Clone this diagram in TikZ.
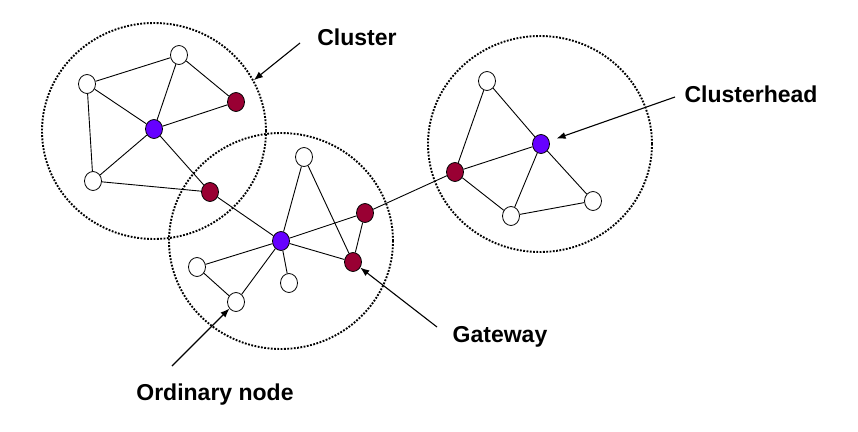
\documentclass[tikz,border=0pt]{standalone}
\usepackage{fontspec}
\setmainfont{Liberation Sans}
\usetikzlibrary{arrows.meta,shapes.geometric}
\definecolor{headblue}{RGB}{102,0,255}
\definecolor{gatered}{RGB}{153,0,51}

\begin{document}
\begin{tikzpicture}[x=1pt,y=-1pt,
    sensor/.style={ellipse,draw,line width=0.8pt,minimum width=17pt,minimum height=19pt,inner sep=0pt},
    plain/.style={sensor,fill=white},
    head/.style={sensor,fill=headblue},
    gate/.style={sensor,fill=gatered},
    cluster/.style={ellipse,draw,line width=1.9pt,dash pattern=on 1.8pt off 1.5pt,minimum width=224pt,minimum height=216pt,inner sep=0pt},
    callout/.style={font=\fontsize{23}{27}\selectfont\bfseries,anchor=base},
    pointer/.style={-{Latex[length=9pt,width=7pt]},line width=1.1pt},
    link/.style={line width=0.9pt}]
    \useasboundingbox (0,0) rectangle (858,431);

    % clusters
    \node[cluster] (clus1) at (154,131) {};
    \node[cluster] (clus2) at (281,241) {};
    \node[cluster] (clus3) at (540,144) {};

    % nodes of the first cluster
    \node[plain] (a1) at (87,84) {};
    \node[plain] (a2) at (179,55) {};
    \node[gate]  (a3) at (236,102) {};
    \node[head]  (a4) at (154,129) {};
    \node[plain] (a5) at (93,181) {};
    \node[gate]  (a6) at (210,192) {};

    % nodes of the second cluster
    \node[head]  (b1) at (281,241) {};
    \node[plain] (b2) at (304,157) {};
    \node[gate]  (b3) at (365,213) {};
    \node[gate]  (b4) at (353,262) {};
    \node[plain] (b5) at (197,267) {};
    \node[plain] (b6) at (236,302) {};
    \node[plain] (b7) at (289,283) {};

    % nodes of the third cluster
    \node[plain] (c1) at (487,81) {};
    \node[head]  (c2) at (541,144) {};
    \node[gate]  (c3) at (455,172) {};
    \node[plain] (c4) at (511,216) {};
    \node[plain] (c5) at (593,201) {};

    % links
    \draw[link] (a1) -- (a2);
    \draw[link] (a2) -- (a3);
    \draw[link] (a1) -- (a4);
    \draw[link] (a2) -- (a4);
    \draw[link] (a3) -- (a4);
    \draw[link] (a1) -- (a5);
    \draw[link] (a5) -- (a4);
    \draw[link] (a5) -- (a6);
    \draw[link] (a4) -- (a6);
    \draw[link] (a6) -- (b1);
    \draw[link] (b1) -- (b2);
    \draw[link] (b1) -- (b3);
    \draw[link] (b1) -- (b4);
    \draw[link] (b2) -- (b4);
    \draw[link] (b3) -- (b4);
    \draw[link] (b1) -- (b5);
    \draw[link] (b5) -- (b6);
    \draw[link] (b1) -- (b6);
    \draw[link] (b1) -- (b7);
    \draw[link] (b3) -- (c3);
    \draw[link] (c1) -- (c3);
    \draw[link] (c1) -- (c2);
    \draw[link] (c3) -- (c2);
    \draw[link] (c3) -- (c4);
    \draw[link] (c2) -- (c4);
    \draw[link] (c2) -- (c5);
    \draw[link] (c4) -- (c5);

    % labels
    \node[callout] (lclus) at (357,45) {Cluster};
    \node[callout] (lhead) at (751,102) {Clusterhead};
    \node[callout] (lgate) at (500,342) {Gateway};
    \node[callout] (lord) at (215,400) {Ordinary node};

    % pointers
    \coordinate (tclus) at (300,43);
    \coordinate (thead) at (675,97);
    \coordinate (tgate) at (437,327);
    \coordinate (tord) at (172,366);
    \draw[pointer] (tclus) -- (clus1.27);
    \draw[pointer,shorten >=7.5pt] (thead) -- (c2);
    \draw[pointer] (tgate) -- (b4);
    \draw[pointer] (tord) -- (b6);
\end{tikzpicture}
\end{document}
